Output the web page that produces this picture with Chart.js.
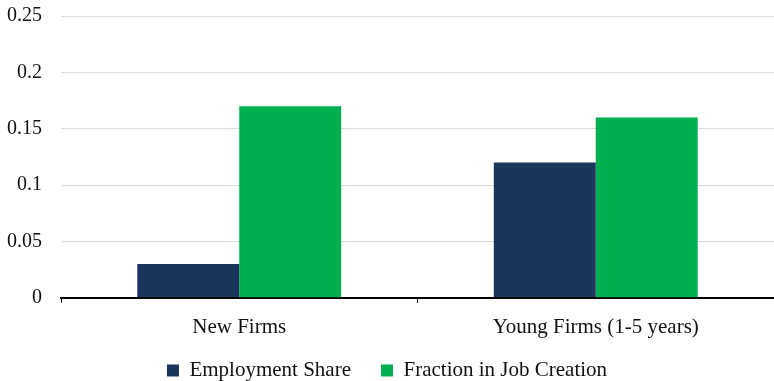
<!DOCTYPE html>
<html>
<head>
<meta charset="utf-8">
<script src="https://cdn.jsdelivr.net/npm/chart.js@4"></script>
<style>
  body { margin: 0; background: #fff; }
  #wrap { width: 774px; height: 381px; position: relative; }
</style>
</head>
<body>
<div id="wrap"><canvas id="barChart"></canvas></div>
<script>
const categorias = ["New Firms", "Young Firms (1-5 years)"];
const employmentShare = [0.03, 0.12];
const jobCreation = [0.17, 0.16];
const yTickLabels = ["0", "0.05", "0.1", "0.15", "0.2", "0.25"];

const serif = "'Liberation Serif', serif";
const fonteEixoY = { family: serif, size: 20 };
const fonte = { family: serif, size: 21 };

// os rótulos do eixo x passam um pouco da caixa encolhida; evita o corte
const rotulosX = {
  id: "rotulosX",
  afterLayout(chart) {
    chart.scales.x.bottom += 30;
  },
};

const config = {
  type: "bar",
  data: {
    labels: categorias,
    datasets: [
      {
        label: "Employment Share",
        data: employmentShare,
        backgroundColor: "#1b365d",
      },
      {
        label: "Fraction in Job Creation",
        data: jobCreation,
        backgroundColor: "#00b050",
      },
    ],
  },
  plugins: [rotulosX],
  options: {
    responsive: true,
    maintainAspectRatio: false,
    animation: false,
    layout: { padding: { top: 16, right: 0, left: 0, bottom: -10 } },
    datasets: {
      bar: { categoryPercentage: 0.572, barPercentage: 1.0 },
    },
    plugins: {
      tooltip: { enabled: false },
      legend: {
        position: "bottom",
        labels: {
          color: "#111",
          font: fonte,
          boxWidth: 12,
          boxHeight: 12,
          padding: 30,
        },
      },
    },
    scales: {
      x: {
        grid: {
          offset: true,
          drawOnChartArea: false,
          drawTicks: true,
          tickLength: 5,
          color: "#000",
        },
        border: { color: "#000", width: 2 },
        ticks: { color: "#111", font: fonte, padding: 12 },
        // eixo x mais baixo, deixando mais espaço para as barras
        afterFit: (scale) => {
          scale.height -= 22;
        },
      },
      y: {
        min: 0,
        max: 0.25,
        ticks: {
          stepSize: 0.05,
          color: "#111",
          font: fonteEixoY,
          padding: 19,
          callback: (v, i) => yTickLabels[i],
        },
        grid: { color: "#d9d9d9", drawTicks: false },
        border: { display: false },
        // largura fixa do eixo e sem folga extra no topo
        afterFit: (scale) => {
          scale.width = 61;
          scale.paddingTop = 0;
        },
      },
    },
  },
};

// Criação do gráfico
const ctx = document.getElementById("barChart").getContext("2d");
const myChart = new Chart(ctx, config);
</script>
</body>
</html>
